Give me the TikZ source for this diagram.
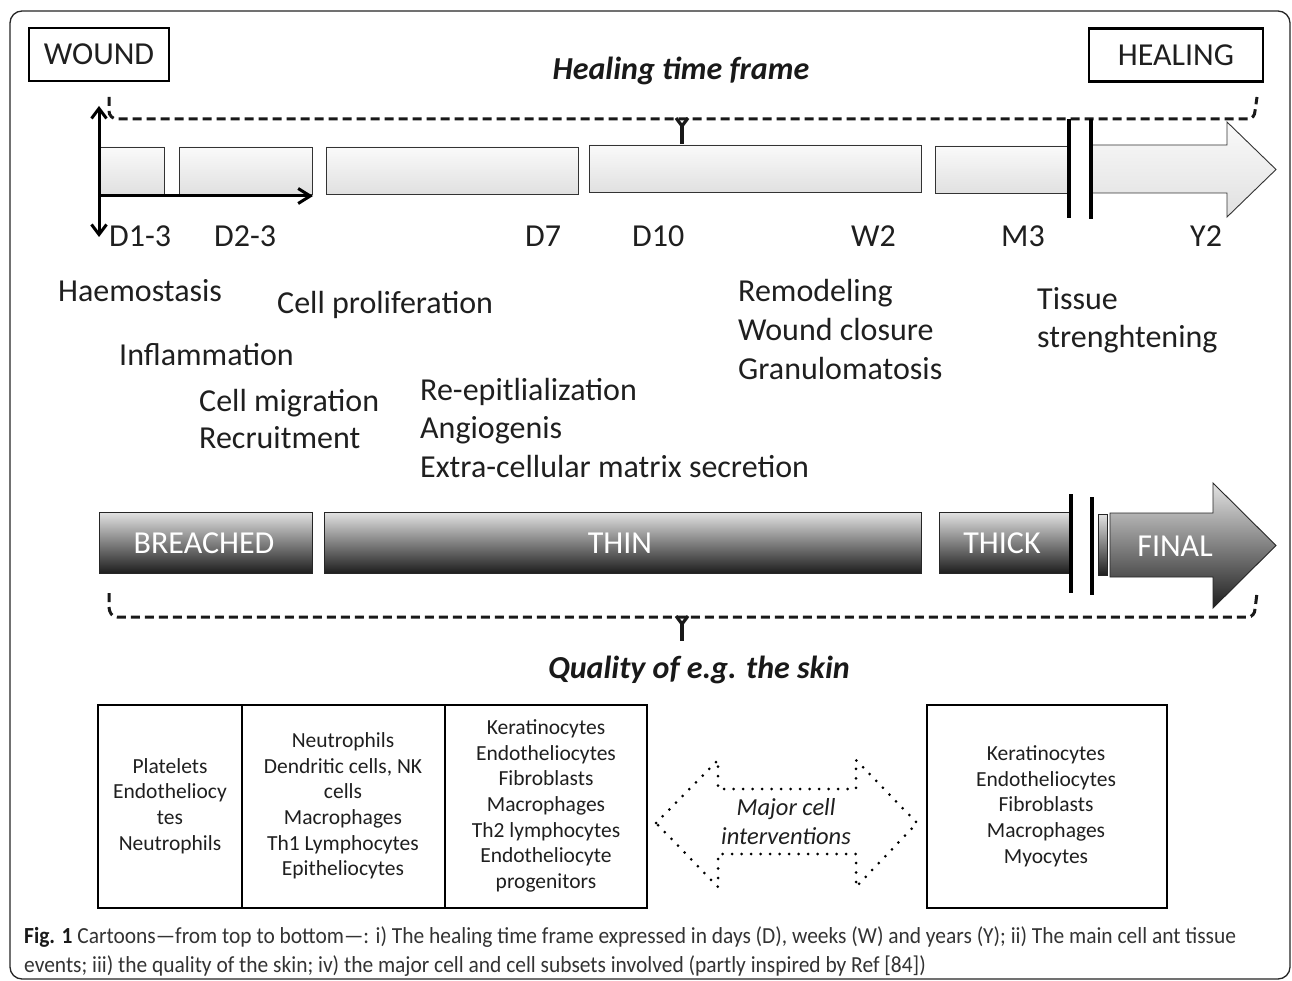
\documentclass[tikz,border=0pt]{standalone}
\usepackage{fontspec}
\setmainfont{Carlito}
\usetikzlibrary{arrows.meta}
\tikzset{
  lightbar/.style={draw=black!80, line width=0.9pt, top color=gray!4, bottom color=gray!24},
  darkbar/.style={draw=black!85, line width=0.9pt, top color=gray!22, bottom color=black!88},
  evtext/.style={font=\fontsize{32}{38}\selectfont, text=black!88, inner sep=0pt, anchor=base west},
  daytext/.style={font=\fontsize{32}{38}\selectfont, text=black!88, inner sep=0pt, anchor=base west},
  bartext/.style={font=\fontsize{32}{38}\selectfont, text=white, inner sep=0pt},
  titletext/.style={font=\fontsize{32}{38}\selectfont\bfseries\itshape, text=black!90, inner sep=0pt, anchor=base},
  endbox/.style={draw=black, line width=2.8pt, inner sep=0pt, font=\fontsize{32}{38}\selectfont, text=black!88},
  brace/.style={draw=black!90, line width=3pt, dash pattern=on 9pt off 5pt},
  bracetip/.style={draw=black!90, line width=3.2pt},
  celltext/.style={font=\fontsize{21.5}{25.7}\selectfont, text=black!88, align=center, inner sep=0pt},
  cellbox/.style={draw=black, line width=2.8pt},
  breakbar/.style={draw=black, line width=3.5pt},
  timearrow/.style={draw=black, line width=3pt, {Straight Barb[length=10pt,width=15pt]}-{Straight Barb[length=10pt,width=15pt]}},
  caption/.style={font=\fontsize{23}{29}\selectfont, text=black!80, inner sep=0pt, anchor=base west}
}
\newlength\capwidth
\newcommand\capfirstline{\textbf{\color{black!90}Fig. 1} Cartoons---from top to bottom---: i) The healing time frame expressed in days (D), weeks (W) and years (Y); ii) The main cell ant tissue}
\begin{document}
\settowidth\capwidth{\fontsize{23}{29}\selectfont\capfirstline}
\pgfmathsetmacro\capscale{1212/\capwidth}
\begin{tikzpicture}[x=1pt,y=-1pt]
\useasboundingbox (0,0) rectangle (1292,981);
\fill[white] (0,0) rectangle (1292,981);
% outer frame
\draw[black!85, line width=1.3pt, rounded corners=12pt] (10,11) rectangle (1290,979);

% WOUND / HEALING
\node[endbox, minimum width=140pt, minimum height=53pt] (wound) at (99,54.5) {WOUND};
\node[endbox, minimum width=174pt, minimum height=53pt] (healing) at (1176,55) {HEALING};
\node[titletext] (title) at (681,80) {Healing time frame};

% top brace
\draw[brace] (109,97) -- (109,111) to[out=-90,in=180] (117,119) -- (1248,119) to[out=0,in=-90] (1255,111) -- (1257,97);
\draw[bracetip, line join=round] (676,118) -- (682,126) -- (688,118);
\draw[bracetip] (682,126) -- (682,146);

% light bars
\draw[lightbar] (99,147) rectangle (164,194);
\draw[lightbar] (179,147) rectangle (312,194);
\draw[lightbar] (326,147) rectangle (578,194);
\draw[lightbar] (589,145) rectangle (921,192);
\draw[lightbar] (935,146) rectangle (1069,193);
\draw[lightbar] (1091,145) -- (1227,145) -- (1227,122) -- (1276,169.5) -- (1227,217) -- (1227,193) -- (1091,193) -- cycle;
\coordinate (tb1a) at (1069,119); \coordinate (tb1b) at (1069,218);
\coordinate (tb2a) at (1091,119); \coordinate (tb2b) at (1091,219);
\draw[breakbar] (tb1a) -- (tb1b);
\draw[breakbar] (tb2a) -- (tb2b);

% time arrows
\coordinate (va) at (99,106);
\coordinate (vb) at (99,237);
\coordinate (ha) at (99,196);
\coordinate (hb) at (313,196);
\draw[timearrow] (va) -- (vb);
\draw[line width=3pt, -{Straight Barb[length=12pt,width=15pt]}] (ha) -- (hb);

% day labels
\node[daytext] (d13) at (109,247) {D1-3};
\node[daytext] (d23) at (214,247) {D2-3};
\node[daytext] (d7) at (525,247) {D7};
\node[daytext] (d10) at (632,247) {D10};
\node[daytext] (w2) at (851,247) {W2};
\node[daytext] (m3) at (1001,247) {M3};
\node[daytext] (y2) at (1190,247) {Y2};

% events
\node[evtext] (e1) at (58,302) {Haemostasis};
\node[evtext] (e2) at (277,313) {Cell proliferation};
\node[evtext] (e3) at (119,365) {Inflammation};
\node[evtext] (e4) at (199,411) {Cell migration};
\node[evtext] (e5) at (199,448) {Recruitment};
\node[evtext] (e6) at (420,400) {Re-epitlialization};
\node[evtext] (e7) at (420,438) {Angiogenis};
\node[evtext] (e8) at (420,477) {Extra-cellular matrix secretion};
\node[evtext] (e9) at (738,302) {Remodeling};
\node[evtext] (e10) at (738,340) {Wound closure};
\node[evtext] (e11) at (738,379) {Granulomatosis};
\node[evtext] (e12) at (1037,309) {Tissue};
\node[evtext] (e13) at (1037,347) {strenghtening};

% dark bars
\draw[darkbar] (99,512) rectangle (312,573);
\draw[darkbar] (324,512) rectangle (921,573);
\draw[darkbar] (939,512) rectangle (1070,573);
\draw[darkbar] (1098,514) rectangle (1107,575);
\draw[darkbar] (1110,513) -- (1213,513) -- (1213,483) -- (1276,545.5) -- (1213,608) -- (1213,577) -- (1110,577) -- cycle;
\node[bartext] (breached) at (204,543) {BREACHED};
\node[bartext] (thin) at (620,543) {THIN};
\node[bartext] (thick) at (1002,543) {THICK};
\node[bartext] (final) at (1175,546) {FINAL};
\coordinate (bb1a) at (1071,494); \coordinate (bb1b) at (1071,593);
\coordinate (bb2a) at (1092,497); \coordinate (bb2b) at (1092,595);
\draw[breakbar] (bb1a) -- (bb1b);
\draw[breakbar] (bb2a) -- (bb2b);

% bottom brace
\draw[brace] (109,593) -- (109,607) to[out=-90,in=180] (117,617) -- (1248,617) to[out=0,in=-90] (1255,609) -- (1257,593);
\draw[bracetip, line join=round] (676,616) -- (682,624) -- (688,616);
\draw[bracetip] (682,624) -- (682,641);
\node[titletext] (quality) at (699,678) {Quality of e.g. the skin};

% cell boxes
\draw[cellbox] (98,705) rectangle (647,908);
\draw[cellbox] (242,705) -- (242,908);
\draw[cellbox] (445,705) -- (445,908);
\draw[cellbox] (927,705) rectangle (1167,908);
\node[celltext] (c1) at (170,806) {Platelets\\Endotheliocy\\tes\\Neutrophils};
\node[celltext] (c2) at (343,806) {Neutrophils\\Dendritic cells, NK\\cells\\Macrophages\\Th1 Lymphocytes\\Epitheliocytes};
\node[celltext] (c3) at (546,806) {Keratinocytes\\Endotheliocytes\\Fibroblasts\\Macrophages\\Th2 lymphocytes\\Endotheliocyte\\progenitors};
\node[celltext] (c4) at (1046,806) {Keratinocytes\\Endotheliocytes\\Fibroblasts\\Macrophages\\Myocytes};

% dotted double arrow
\draw[black, line width=3pt, line cap=round, dash pattern=on 0pt off 9.5pt]
  (656,823) -- (718,760) -- (718,789) -- (856,789) -- (856,760) -- (917,823) -- (856,887) -- (856,854) -- (718,854) -- (718,887) -- cycle;
\node[font=\fontsize{24.5}{29}\selectfont\itshape, text=black!88, align=center, inner sep=0pt] (major) at (786,822) {Major cell\\interventions};

% caption
\node[caption] (cap1) at (24,943) {\scalebox{\capscale}[1]{\capfirstline}};
\node[caption] (cap2) at (24,972) {\scalebox{\capscale}[1]{events; iii) the quality of the skin; iv) the major cell and cell subsets involved (partly inspired by Ref [84])}};
\end{tikzpicture}
\end{document}
